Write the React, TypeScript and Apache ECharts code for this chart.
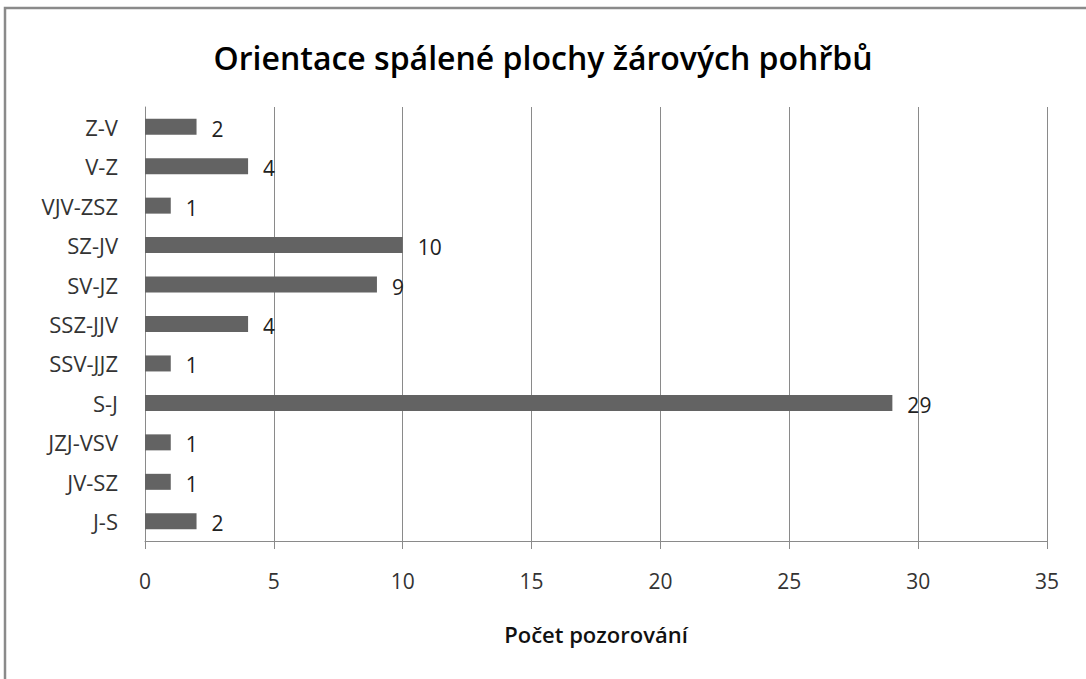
import React, { useEffect, useRef } from "react";
import * as echarts from "echarts";

const categories = ["J-S", "JV-SZ", "JZJ-VSV", "S-J", "SSV-JJZ", "SSZ-JJV", "SV-JZ", "SZ-JV", "VJV-ZSZ", "V-Z", "Z-V"];
const counts = [2, 1, 1, 29, 1, 4, 9, 10, 1, 4, 2];
const titleText = "Orientace spálené plochy žárových pohřbů";
const xAxisName = "Počet pozorování";

export default function App() {
  const ref = useRef<HTMLDivElement>(null);
  useEffect(() => {
    if (!ref.current) return;
    const chart = echarts.init(ref.current, null, { renderer: "svg" });
    const font = "'Open Sans', Lato, sans-serif";
    chart.setOption({
      animation: false,
      backgroundColor: "#ffffff",
      textStyle: { fontFamily: font },
      title: {
        text: titleText,
        left: "center",
        top: 36,
        textStyle: { fontFamily: font, fontSize: 32, fontWeight: 600, color: "#000" },
      },
      graphic: [
        {
          type: "rect",
          shape: { x: 5, y: 8, width: 1090, height: 700 },
          style: { fill: "none", stroke: "#8a8a8a", lineWidth: 2.5 },
          silent: true,
        },
      ],
      grid: { left: 145, right: 39, top: 107, bottom: 138, containLabel: false },
      xAxis: {
        type: "value",
        min: 0,
        max: 35,
        interval: 5,
        name: xAxisName,
        nameLocation: "middle",
        nameGap: 82,
        nameTextStyle: { fontFamily: font, fontSize: 22, fontWeight: 600, color: "#111" },
        axisLine: { show: true, lineStyle: { color: "#8a8a8a", width: 1 } },
        axisTick: { show: true, length: 8, lineStyle: { color: "#8a8a8a" } },
        splitLine: { show: true, lineStyle: { color: "#8a8a8a", width: 1 } },
        axisLabel: { fontFamily: font, fontSize: 21, color: "#333", margin: 29 },
      },
      yAxis: {
        type: "category",
        data: categories,
        axisLine: { show: true, lineStyle: { color: "#8a8a8a", width: 1 } },
        axisTick: { show: false },
        axisLabel: { fontFamily: font, fontSize: 22, color: "#333", margin: 27 },
      },
      series: [
        {
          type: "bar",
          data: counts,
          barWidth: 16,
          itemStyle: { color: "#636363" },
          label: {
            show: true,
            position: "right",
            distance: 15,
            offset: [0, 2],
            fontFamily: font,
            fontSize: 21,
            color: "#222",
          },
        },
      ],
    });
    return () => chart.dispose();
  }, []);
  return (
    <div
      ref={ref}
      style={{ position: "fixed", left: 0, top: 0, width: 1086, height: 679 }}
    />
  );
}
